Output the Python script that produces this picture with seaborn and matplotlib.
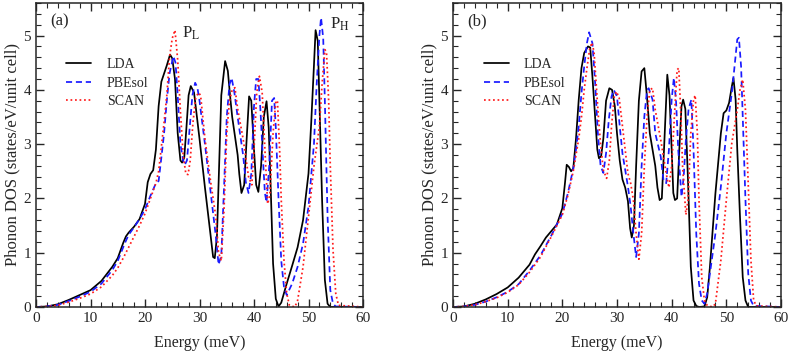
import matplotlib
matplotlib.use("Agg")
import matplotlib.pyplot as plt
from matplotlib.ticker import MultipleLocator
import seaborn as sns

# phonon DOS curves, energy in meV
# panel (a)
lda_a_x = [0, 2, 4, 6, 8, 10, 12, 14, 15, 16, 16.5, 17, 18, 19, 20, 20.5, 21, 21.5, 22, 22.5,
           23, 23.5, 24, 24.6, 25, 25.5, 26, 26.5, 26.8, 27.2, 27.6, 28, 28.4, 29, 30, 31, 32,
           32.5, 32.8, 33.2, 33.6, 34, 34.7, 35.2, 35.6, 36, 37, 37.3, 37.7, 38.2, 38.6, 39.1,
           39.5, 40, 40.4, 40.8, 41.3, 41.8, 42.3, 42.7, 43, 43.5, 44, 44.5, 45, 46, 47, 48, 49,
           50, 50.5, 51, 51.3, 51.7, 52, 52.5, 53, 53.5, 54, 60]
lda_a_y = [0, 0.01, 0.05, 0.13, 0.22, 0.31, 0.48, 0.74, 0.9, 1.18, 1.3, 1.37, 1.48, 1.62, 1.9,
           2.3, 2.45, 2.52, 2.9, 3.7, 4.15, 4.3, 4.45, 4.65, 4.58, 4.2, 3.2, 2.7, 2.66, 2.75,
           3.3, 3.9, 4.07, 3.95, 3.1, 2.2, 1.35, 0.92, 0.9, 1.3, 2.6, 3.9, 4.53, 4.35, 3.9, 3.5,
           2.8, 2.45, 2.1, 2.25, 3.0, 3.88, 3.8, 2.9, 2.25, 2.12, 2.6, 3.5, 3.79, 3.3, 2.4, 0.8,
           0.15, 0.01, 0.08, 0.43, 0.76, 1.1, 1.6, 2.46, 3.4, 4.45, 5.1, 4.9, 3.8, 1.95, 0.5,
           0.06, 0, 0]

pbesol_a_x = [0, 2, 4, 6, 8, 10, 12, 14, 15, 16, 16.5, 17, 18, 19, 20, 21, 22, 22.5, 23, 23.5,
              24, 24.5, 25.2, 25.6, 26, 26.5, 27, 27.3, 27.7, 28.2, 28.7, 29.2, 29.6, 30, 31,
              32, 33, 33.5, 34, 34.5, 35, 35.5, 35.9, 36.4, 37, 38, 38.5, 39, 39.5, 40, 40.4,
              40.8, 41.2, 41.6, 42, 42.3, 42.8, 43.3, 43.7, 44, 44.5, 45, 45.5, 46, 47, 48, 49,
              50, 51, 51.5, 52, 52.3, 52.7, 53, 53.5, 54, 54.5, 55, 60]
pbesol_a_y = [0, 0.01, 0.04, 0.11, 0.19, 0.28, 0.43, 0.68, 0.85, 1.1, 1.22, 1.33, 1.47, 1.62,
              1.8, 2.05, 2.28, 2.32, 2.75, 3.2, 3.8, 4.3, 4.62, 4.5, 3.9, 3.0, 2.7, 2.62, 2.7,
              3.3, 3.9, 4.13, 4.05, 3.8, 3.0, 2.15, 1.3, 0.78, 0.95, 2.2, 3.5, 4.1, 4.22, 3.95,
              3.5, 2.8, 2.3, 2.1, 2.45, 3.7, 4.2, 4.2, 3.6, 2.8, 2.1, 1.93, 2.6, 3.8, 3.85, 3.3,
              2.0, 0.85, 0.37, 0.22, 0.43, 0.74, 1.17, 1.85, 3.0, 4.1, 5.0, 5.33, 4.95, 3.8,
              1.66, 0.31, 0.06, 0.01, 0]

scan_a_x = [0, 2, 4, 6, 8, 10, 12, 14, 15, 16, 17, 18, 19, 20, 21, 22, 22.5, 23, 23.5, 24,
            24.5, 25, 25.5, 26, 26.5, 27, 27.5, 27.9, 28.3, 28.8, 29.3, 29.8, 30.2, 31, 32, 33,
            33.5, 34, 34.5, 35, 35.5, 36, 36.5, 37, 38, 39, 39.6, 40, 40.5, 41, 41.5, 42, 42.5,
            42.9, 43.5, 44, 44.3, 44.7, 45, 45.5, 46, 46.5, 47.5, 48, 49, 50, 51, 52, 52.5, 53,
            53.3, 53.7, 54, 54.5, 55, 55.5, 60]
scan_a_y = [0, 0.01, 0.03, 0.09, 0.16, 0.24, 0.37, 0.58, 0.72, 0.9, 1.1, 1.3, 1.5, 1.72, 2.0,
            2.28, 2.5, 2.95, 3.4, 3.9, 4.6, 4.95, 5.1, 4.55, 3.6, 2.8, 2.45, 2.44, 2.7, 3.4,
            3.85, 3.95, 3.9, 3.1, 2.34, 1.66, 1.0, 0.85, 1.8, 3.2, 3.8, 4.0, 4.04, 3.65, 3.1,
            2.4, 2.25, 2.9, 3.95, 4.25, 3.95, 2.9, 1.9, 2.05, 3.2, 3.79, 3.8, 2.9, 1.97, 0.86,
            0.25, 0.03, 0.0, 0.12, 0.74, 1.66, 2.59, 3.33, 4.12, 4.74, 4.7, 3.8, 2.59, 1.05,
            0.25, 0.03, 0]

# panel (b)
lda_b_x = [0, 2, 4, 6, 8, 10, 12, 14, 15, 16, 16.5, 17, 18, 19, 20, 20.5, 20.8, 21.2, 21.6,
           22, 22.5, 23, 23.5, 24, 24.7, 25.1, 25.5, 26, 26.4, 26.7, 27.1, 27.5, 28, 28.6,
           29.1, 29.6, 30, 30.5, 31, 31.5, 32, 32.4, 32.7, 33.1, 33.5, 34, 34.5, 35, 35.5, 36,
           37, 37.4, 37.8, 38.2, 38.6, 39.2, 39.6, 40, 40.3, 40.6, 41, 41.4, 41.8, 42.1, 42.5,
           43, 43.5, 44, 44.5, 45, 46, 46.5, 47, 48, 49, 49.5, 50, 50.5, 51, 51.3, 51.7, 52,
           52.5, 53, 53.5, 54, 60]
lda_b_y = [0, 0.01, 0.06, 0.14, 0.24, 0.36, 0.54, 0.78, 0.97, 1.12, 1.2, 1.28, 1.4, 1.52,
           1.82, 2.3, 2.62, 2.58, 2.5, 2.55, 3.1, 3.82, 4.4, 4.68, 4.8, 4.78, 4.25, 3.5, 2.9,
           2.74, 2.78, 3.1, 3.8, 4.03, 4.0, 3.7, 3.2, 2.7, 2.35, 2.2, 1.95, 1.45, 1.28, 1.5,
           2.6, 3.8, 4.34, 4.4, 3.85, 3.2, 2.6, 2.2, 1.97, 2.0, 2.9, 4.28, 3.9, 2.9, 2.1, 1.97,
           2.0, 2.9, 3.7, 3.82, 3.65, 2.3, 0.74, 0.12, 0.02, 0.0, 0.01, 0.18, 0.74, 2.09, 3.2,
           3.57, 3.62, 3.76, 4.06, 4.22, 3.82, 2.9, 1.66, 0.55, 0.12, 0.0, 0]

pbesol_b_x = [0, 2, 4, 6, 8, 10, 12, 14, 16, 18, 20, 21, 22, 22.5, 23, 23.5, 24, 24.5, 24.9,
              25.5, 26, 26.5, 27, 27.5, 28, 28.5, 29, 29.4, 30, 30.5, 31, 32, 32.5, 33, 33.5,
              34, 34.5, 35, 35.5, 35.8, 36.5, 37, 38, 38.5, 39, 39.5, 40, 40.4, 40.8, 41.2,
              41.8, 42.2, 42.6, 43.1, 43.6, 44, 44.5, 45, 45.5, 46, 46.5, 47, 48, 49, 50, 51,
              51.5, 52, 52.3, 52.7, 53, 53.5, 54, 54.5, 55, 60]
pbesol_b_y = [0, 0.01, 0.04, 0.1, 0.18, 0.28, 0.42, 0.67, 0.95, 1.32, 1.72, 2.09, 2.55, 2.9,
              3.33, 3.94, 4.43, 4.86, 5.06, 4.86, 4.13, 3.2, 2.6, 2.47, 2.83, 3.45, 3.88, 4.0,
              3.88, 3.33, 2.83, 2.22, 1.85, 1.35, 0.92, 1.35, 2.59, 3.51, 4.0, 4.03, 3.82, 3.2,
              2.77, 2.34, 2.28, 2.9, 3.82, 4.22, 3.8, 2.9, 2.03, 2.4, 3.08, 3.65, 3.82, 2.9,
              1.35, 0.43, 0.12, 0.06, 0.25, 0.62, 1.35, 2.22, 3.2, 3.94, 4.43, 4.93, 4.96, 4.43,
              3.51, 1.97, 0.62, 0.12, 0.02, 0]

scan_b_x = [0, 2, 4, 6, 8, 10, 12, 14, 16, 18, 20, 21, 22, 23, 23.5, 24, 24.5, 25, 25.4, 25.8,
            26.2, 26.6, 27, 27.5, 28.1, 28.6, 29, 29.5, 29.9, 30.4, 31, 32, 32.5, 33, 33.5, 34,
            34.5, 35, 35.5, 36, 36.5, 37, 38, 39, 39.5, 40, 40.5, 41, 41.3, 41.7, 42, 42.6, 43,
            43.5, 44, 44.3, 44.7, 45, 45.5, 46, 46.5, 47.5, 48, 49, 50, 51, 52, 52.5, 53, 53.5,
            54, 54.5, 55, 55.5, 60]
scan_b_y = [0, 0.01, 0.04, 0.1, 0.17, 0.27, 0.41, 0.64, 0.92, 1.3, 1.7, 2.05, 2.5, 3.1, 3.5,
            4.0, 4.4, 4.75, 4.87, 4.7, 4.1, 3.5, 3.0, 2.52, 2.37, 2.7, 3.33, 3.88, 3.97, 3.85,
            3.33, 2.46, 2.28, 1.97, 1.35, 0.88, 1.35, 2.59, 3.51, 4.0, 4.03, 3.63, 3.08, 2.46,
            2.2, 2.59, 3.51, 4.37, 4.4, 3.51, 2.59, 1.7, 1.97, 3.2, 3.82, 3.9, 3.2, 1.97, 0.55,
            0.12, 0.03, 0.0, 0.06, 0.86, 1.97, 3.02, 3.63, 4.0, 4.19, 3.63, 2.28, 0.86, 0.12,
            0.02, 0]

labels = ["LDA", "PBEsol", "SCAN"]
colors = ["black", "#1a1aff", "#ff1a1a"]
styles = ["-", (0, (3.5, 2.2)), (0, (1, 1.6))]
panels = [("(a)", [(lda_a_x, lda_a_y), (pbesol_a_x, pbesol_a_y), (scan_a_x, scan_a_y)]),
          ("(b)", [(lda_b_x, lda_b_y), (pbesol_b_x, pbesol_b_y), (scan_b_x, scan_b_y)])]

sns.set_style("ticks")
plt.rcParams["font.family"] = ["Liberation Serif", "DejaVu Serif"]
plt.rcParams["mathtext.fontset"] = "stix"
plt.rcParams["xtick.direction"] = "in"
plt.rcParams["ytick.direction"] = "in"

fig = plt.figure(figsize=(7.89, 3.54), dpi=100)
axes = [fig.add_axes([36 / 789, 47 / 354, 327 / 789, 304 / 354]),
        fig.add_axes([453 / 789, 47 / 354, 328 / 789, 304 / 354])]

for ax, (tag, curves) in zip(axes, panels):
    for (xs, ys), lab, col, ls in zip(curves, labels, colors, styles):
        sns.lineplot(x=xs, y=ys, ax=ax, color=col, linestyle=ls, linewidth=1.25,
                     label=lab, sort=False)
    ax.set_xlim(0, 60)
    ax.set_ylim(0, 5.6)
    ax.xaxis.set_major_locator(MultipleLocator(10))
    ax.xaxis.set_minor_locator(MultipleLocator(2))
    ax.yaxis.set_major_locator(MultipleLocator(1))
    ax.yaxis.set_minor_locator(MultipleLocator(0.2))
    ax.tick_params(which="both", top=True, right=True, direction="in", labelsize=11)
    ax.tick_params(which="major", length=6, width=1)
    ax.tick_params(which="minor", length=3.5, width=0.8)
    for sp in ax.spines.values():
        sp.set_linewidth(1.1)
    ax.set_xlabel("Energy (meV)", fontsize=11.5, labelpad=7)
    ax.set_ylabel("Phonon DOS (states/eV/unit cell)", fontsize=12, labelpad=2)
    ax.text(2.6, 5.26, tag, fontsize=12, va="center", ha="left")
    ax.legend(loc="upper left", bbox_to_anchor=(0.055, 0.86), frameon=False, fontsize=10,
              handlelength=1.8, handletextpad=1.1, labelspacing=0.4)

axes[0].text(26.8, 5.05, r"P$_\mathrm{L}$", fontsize=12, va="center", ha="left")
axes[0].text(53.9, 5.2, r"P$_\mathrm{H}$", fontsize=12, va="center", ha="left")

plt.savefig("out.png", dpi=100)
